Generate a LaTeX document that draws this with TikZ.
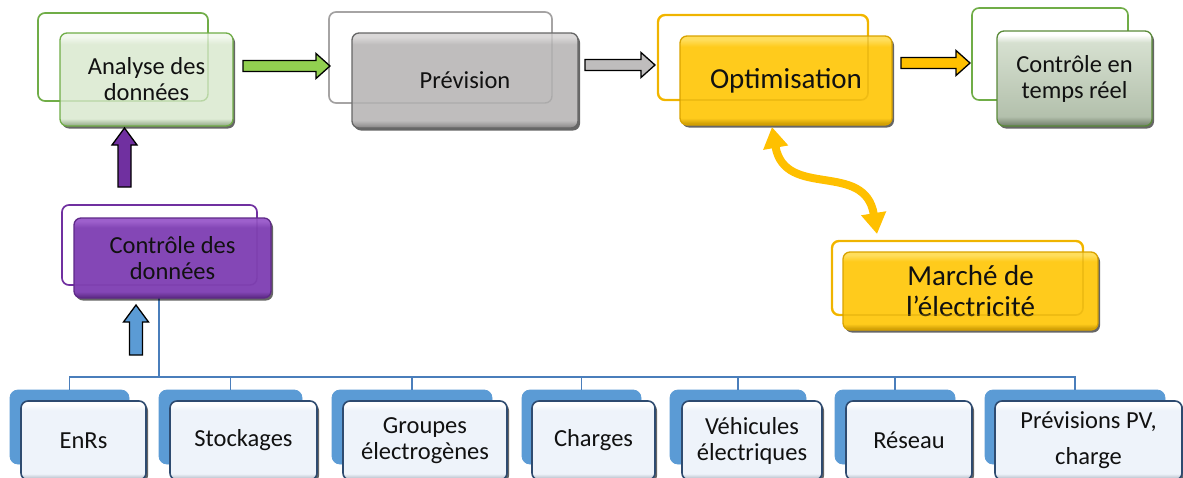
\documentclass[tikz,border=0pt]{standalone}
\usepackage{fontspec}
\setmainfont{Carlito}
\usetikzlibrary{shadows,arrows.meta}
\definecolor{grn}{HTML}{70AD47}
\definecolor{grnlight}{HTML}{DFECD6}
\definecolor{grnlighter}{HTML}{F3F8EF}
\definecolor{grndark}{HTML}{8EA583}
\definecolor{grnarr}{HTML}{92D050}
\definecolor{gry}{HTML}{B0AEAE}
\definecolor{grybase}{HTML}{BFBDBD}
\definecolor{grytop}{HTML}{DAD8D8}
\definecolor{grydark}{HTML}{858383}
\definecolor{gold}{HTML}{FFC000}
\definecolor{goldbase}{HTML}{FFCB1C}
\definecolor{goldtop}{HTML}{FFDE5C}
\definecolor{golddark}{HTML}{C39300}
\definecolor{ctrtop}{HTML}{D6E0D0}
\definecolor{ctrmid}{HTML}{B3C0AC}
\definecolor{ctrbot}{HTML}{6F7C69}
\definecolor{purp}{HTML}{7030A0}
\definecolor{purptop}{HTML}{9D60CC}
\definecolor{purpbase}{HTML}{8447B6}
\definecolor{purpdark}{HTML}{582780}
\definecolor{bluee}{HTML}{5B9BD5}
\definecolor{treeblue}{HTML}{4A7EBB}
\definecolor{bfront}{HTML}{EEF3FA}
\definecolor{bfronttop}{HTML}{FFFFFF}
\definecolor{bfrontdark}{HTML}{A7AFBA}
\definecolor{bborder}{HTML}{2E4B70}
\definecolor{txt}{HTML}{111111}
\pgfdeclareverticalshading{bevgrn}{100bp}{color(0bp)=(grndark); color(25bp)=(grndark); color(29bp)=(grnlight); color(69bp)=(grnlight); color(73bp)=(grnlighter); color(100bp)=(grnlighter)}
\pgfdeclareverticalshading{bevgry}{100bp}{color(0bp)=(grydark); color(25bp)=(grydark); color(29bp)=(grybase); color(69bp)=(grybase); color(73bp)=(grytop); color(100bp)=(grytop)}
\pgfdeclareverticalshading{bevgold}{100bp}{color(0bp)=(golddark); color(25bp)=(golddark); color(29bp)=(goldbase); color(69bp)=(goldbase); color(73bp)=(goldtop); color(100bp)=(goldtop)}
\pgfdeclareverticalshading{bevctr}{100bp}{color(0bp)=(ctrbot); color(25bp)=(ctrbot); color(30bp)=(ctrmid); color(69bp)=(ctrtop); color(73bp)=(white); color(100bp)=(white)}
\pgfdeclareverticalshading{bevpurp}{100bp}{color(0bp)=(purpdark); color(25bp)=(purpdark); color(29bp)=(purpbase); color(69bp)=(purpbase); color(73bp)=(purptop); color(100bp)=(purptop)}
\pgfdeclareverticalshading{bevblue}{100bp}{color(0bp)=(bfrontdark); color(25bp)=(bfrontdark); color(29bp)=(bfront); color(69bp)=(bfront); color(73bp)=(bfronttop); color(100bp)=(bfronttop)}
\tikzset{
  backline/.style={draw=#1, line width=1.6pt, rounded corners=7pt, fill=none, inner sep=0pt},
  frontbox/.style 2 args={rounded corners=7pt, draw=#1, line width=1.3pt,
     shading=#2, inner sep=2pt, align=center, text=txt,
     drop shadow={shadow xshift=2pt, shadow yshift=-2.5pt, opacity=0.6, fill=black}},
  txta/.style={font=\fontsize{24.5}{26}\selectfont},
  txtb/.style={font=\fontsize{29}{31}\selectfont},
  bback/.style={fill=bluee, draw=bluee, line width=0.8pt, rounded corners=8pt, inner sep=0pt},
  bfrontbox/.style={frontbox={bborder}{bevblue}, minimum height=79pt, txta, line width=1.6pt},
  blk/.style={draw=black, line width=1.3pt, line join=miter},
  tree/.style={draw=treeblue, line width=1.8pt},
}
\newcommand\rarr[4]{%
  \draw[blk,fill=#4] (#1,#3-5.5) -- (#2-14,#3-5.5) -- (#2-14,#3-12.5) -- (#2,#3) -- (#2-14,#3+12.5) -- (#2-14,#3+5.5) -- (#1,#3+5.5) -- cycle;}
\newcommand\uarr[4]{%
  \draw[blk,fill=#4] (#1-6.5,#3) -- (#1-6.5,#2+17) -- (#1-12.5,#2+17) -- (#1,#2) -- (#1+12.5,#2+17) -- (#1+6.5,#2+17) -- (#1+6.5,#3) -- cycle;}
\begin{document}
\begin{tikzpicture}[x=1pt,y=-1pt]
\useasboundingbox (0,0) rectangle (1183,477);
\clip (0,0) rectangle (1183,477);
\fill[white] (0,0) rectangle (1183,477);

% ---------- top row ----------
\node[backline=grn, minimum width=170pt, minimum height=88pt] (adb) at (123,57) {};
\node[frontbox={grn}{bevgrn}, minimum width=173pt, minimum height=93pt, txta] (ad) at (146.5,79.5) {Analyse des\\données};
\draw[draw=grn, line width=1.4pt, rounded corners=7pt, draw opacity=0.35] (38,13) rectangle (208,101);

\node[backline=gry, minimum width=223pt, minimum height=91pt] (prb) at (440.5,57.5) {};
\node[frontbox={gray!80!black}{bevgry}, minimum width=226pt, minimum height=95pt, txta] (pr) at (465,80.5) {Prévision};
\draw[draw=gray, line width=1.4pt, rounded corners=7pt, draw opacity=0.3] (329,12) rectangle (552,103);

\node[backline=gold, minimum width=210pt, minimum height=85pt, line width=2.4pt] (opb) at (763,57.5) {};
\node[frontbox={gold!85!black}{bevgold}, minimum width=212pt, minimum height=89pt, txtb] (op) at (786,80.5) {Optimisation};
\draw[draw=gold!80!black, line width=1.6pt, rounded corners=7pt, draw opacity=0.3] (658,15) rectangle (868,100);

\node[backline=grn, minimum width=156pt, minimum height=92pt] (ctb) at (1050,54) {};
\node[frontbox={grn!80!black}{bevctr}, minimum width=155pt, minimum height=95pt, txta] (ct) at (1074.5,78.5) {Contrôle en\\temps réel};

% ---------- horizontal block arrows ----------
\rarr{243}{330}{66}{grnarr}
\rarr{585}{655}{65}{grybase}
\rarr{901}{970}{63}{gold}

% ---------- left column ----------
\coordinate (hub) at (159,377);
\node[backline=purp, minimum width=195pt, minimum height=80pt] (cdb) at (159.5,245) {};
\draw[tree] (159,298) -- (hub);
\node[frontbox={purp!85!black}{bevpurp}, minimum width=197pt, minimum height=80pt, txta] (cd) at (172.5,258) {Contrôle des\\données};
\draw[draw=purp, line width=1.4pt, rounded corners=7pt, draw opacity=0.35] (62,205) rectangle (257,285);

\uarr{124.5}{128}{187}{purp}
\uarr{136}{305}{355}{bluee}

% ---------- market ----------
\node[backline=gold, minimum width=251pt, minimum height=74pt, line width=2.4pt] (mab) at (957.5,278) {};
\node[frontbox={gold!85!black}{bevgold}, minimum width=255pt, minimum height=78pt, txtb] (ma) at (970.5,291) {Marché de\\l’électricité};
\draw[draw=gold!80!black, line width=1.6pt, rounded corners=7pt, draw opacity=0.3] (832,241) rectangle (1083,315);

\coordinate (dt) at (772,127);
\coordinate (db) at (877,234);
\draw[gold, line width=8pt, {Triangle[length=21pt,width=24pt]}-{Triangle[length=21pt,width=24pt]}]
  (dt) .. controls (785,200) and (865,160) .. (db);

% ---------- bottom tree ----------
\node[bback, minimum width=119pt, minimum height=74pt] (b1) at (69.5,427) {};
\node[bback, minimum width=143pt, minimum height=74pt] (b2) at (230.5,427) {};
\node[bback, minimum width=160pt, minimum height=74pt] (b3) at (412,427) {};
\node[bback, minimum width=119pt, minimum height=74pt] (b4) at (581.5,427) {};
\node[bback, minimum width=136pt, minimum height=74pt] (b5) at (738,427) {};
\node[bback, minimum width=120pt, minimum height=74pt] (b6) at (895,427) {};
\node[bback, minimum width=180pt, minimum height=74pt] (b7) at (1075,427) {};
\foreach \b in {b1,b2,b3,b4,b5,b6,b7} \draw[tree] (hub) -| (\b.north);

\node[bfrontbox, minimum width=125pt] (f1) at (83.5,440.5) {EnRs};
\node[bfrontbox, minimum width=147pt] (f2) at (243.5,440.5) {Stockages};
\node[bfrontbox, minimum width=164pt] (f3) at (425,440.5) {Groupes\\électrogènes};
\node[bfrontbox, minimum width=123pt] (f4) at (593.5,440.5) {Charges};
\node[bfrontbox, minimum width=140pt] (f5) at (752,440.5) {Véhicules\\électriques};
\node[bfrontbox, minimum width=126pt] (f6) at (909,440.5) {Réseau};
\node[bfrontbox, minimum width=187pt] (f7) at (1088.5,440.5) {Prévisions PV,\\[10pt]charge};
\end{tikzpicture}
\end{document}
